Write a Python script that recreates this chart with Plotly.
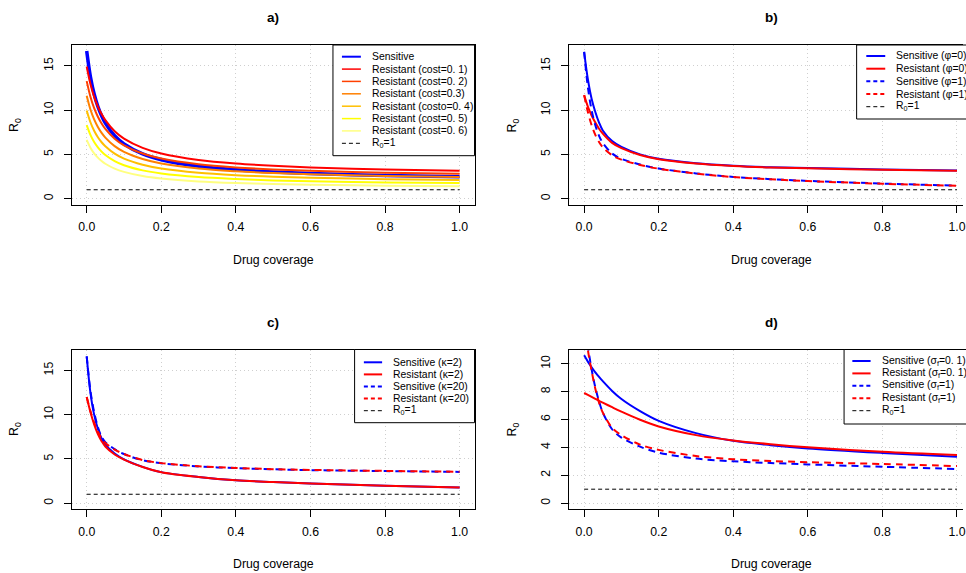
import plotly.graph_objects as go

W, H = 966, 573
FONT = "Liberation Sans, Arial, Helvetica, sans-serif"

# ---------------- data ----------------
x_cov = [0, 0.01, 0.02, 0.03, 0.04, 0.05, 0.075, 0.1, 0.15, 0.2, 0.3, 0.4, 0.5, 0.6, 0.8, 1.0]

# panel a
a_sensitive = [16.7, 13.78, 11.82, 10.41, 9.36, 8.53, 7.10, 6.17, 5.05, 4.40, 3.66, 3.26, 3.01, 2.84, 2.61, 2.48]
a_res_c01 = [14.94, 12.95, 11.50, 10.41, 9.56, 8.87, 7.62, 6.79, 5.74, 5.10, 4.37, 3.97, 3.71, 3.53, 3.29, 3.15]
a_res_c02 = [13.28, 11.51, 10.22, 9.26, 8.50, 7.89, 6.78, 6.03, 5.10, 4.54, 3.89, 3.53, 3.30, 3.14, 2.93, 2.80]
a_res_c03 = [11.62, 10.07, 8.95, 8.10, 7.43, 6.90, 5.93, 5.28, 4.47, 3.97, 3.40, 3.09, 2.88, 2.74, 2.56, 2.45]
a_res_c04 = [9.96, 8.63, 7.67, 6.94, 6.37, 5.92, 5.08, 4.52, 3.83, 3.40, 2.92, 2.65, 2.47, 2.35, 2.20, 2.10]
a_res_c05 = [8.30, 7.20, 6.39, 5.79, 5.31, 4.93, 4.24, 3.77, 3.19, 2.84, 2.43, 2.21, 2.06, 1.96, 1.83, 1.75]
a_res_c06 = [6.64, 5.76, 5.11, 4.63, 4.25, 3.94, 3.39, 3.02, 2.55, 2.27, 1.94, 1.76, 1.65, 1.57, 1.46, 1.40]

# panel b
b_sens_phi0 = [16.6, 13.5, 11.3, 9.8, 8.6, 7.7, 6.5, 5.85, 5.0, 4.5, 4.0, 3.72, 3.55, 3.45, 3.30, 3.19]
b_res_phi0 = [11.7, 10.4, 9.4, 8.6, 7.9, 7.35, 6.3, 5.7, 4.93, 4.45, 3.96, 3.69, 3.52, 3.42, 3.27, 3.16]
b_sens_phi1 = [16.6, 12.6, 10.0, 8.3, 7.1, 6.3, 5.1, 4.5, 3.85, 3.4, 2.85, 2.45, 2.2, 2.0, 1.7, 1.47]
b_res_phi1 = [11.7, 9.8, 8.3, 7.2, 6.4, 5.8, 4.9, 4.4, 3.8, 3.38, 2.83, 2.43, 2.18, 1.98, 1.68, 1.45]

# panel c
c_sens_k2 = [16.6, 12.5, 10.0, 8.4, 7.3, 6.6, 5.6, 4.95, 4.1, 3.5, 2.95, 2.57, 2.38, 2.22, 1.97, 1.77]
c_res_k2 = [12.0, 10.3, 8.9, 7.8, 7.0, 6.4, 5.5, 4.92, 4.08, 3.49, 2.95, 2.57, 2.38, 2.22, 1.97, 1.77]
c_sens_k20 = [16.6, 12.7, 10.3, 8.6, 7.5, 6.9, 6.1, 5.55, 4.85, 4.5, 4.15, 3.95, 3.82, 3.73, 3.62, 3.53]
c_res_k20 = [12.0, 10.4, 9.1, 8.1, 7.3, 6.8, 6.05, 5.55, 4.87, 4.52, 4.17, 3.97, 3.84, 3.75, 3.64, 3.55]

# panel d
d_sens_s01 = [10.6, 10.15, 9.75, 9.38, 9.05, 8.75, 8.05, 7.47, 6.6, 5.9, 5.02, 4.47, 4.16, 3.92, 3.6, 3.33]
d_res_s01 = [7.9, 7.76, 7.62, 7.48, 7.34, 7.21, 6.88, 6.56, 5.98, 5.5, 4.88, 4.5, 4.23, 4.01, 3.68, 3.45]
d_sens_s1 = [14.0, 11.3, 9.6, 8.3, 7.3, 6.5, 5.3, 4.7, 4.05, 3.62, 3.2, 3.0, 2.88, 2.78, 2.61, 2.45]
d_res_s1 = [13.5, 11.0, 9.5, 8.2, 7.2, 6.5, 5.4, 4.88, 4.2, 3.82, 3.38, 3.15, 3.02, 2.94, 2.81, 2.66]

r0_x = [0, 1]
r0_y = [1, 1]

x_ticks = [0, 0.2, 0.4, 0.6, 0.8, 1.0]
x_ticktext = ["0.0", "0.2", "0.4", "0.6", "0.8", "1.0"]
y_ticks_abc = [0, 5, 10, 15]
y_ticks_d = [0, 2, 4, 6, 8, 10]

heat = ["#FF0000", "#FF4000", "#FF8000", "#FFBF00", "#FFFF00", "#FFFF80"]
BLUE = "#0000FF"
RED = "#FF0000"
DASH = "7px,5px"
R0DASH = "4px,3px"
GRID = "#CFCFCF"
GRIDDASH = "1px,3px"

# ---------------- geometry helpers ----------------
def px(v):
    return v / W

def py(v):
    return 1 - v / H

top_dom = [py(204.5), py(45)]
bot_dom = [py(509), py(349.5)]
left_dom = [px(72), px(476)]
right_dom = [px(571), 1.0]

fig = go.Figure()

def add(xa, ya, y, color, width, dash=None):
    fig.add_trace(go.Scatter(
        x=x_cov, y=y, mode="lines", xaxis=xa, yaxis=ya, showlegend=False,
        line=dict(color=color, width=width, dash=dash, shape="spline", smoothing=0.9),
        hoverinfo="skip"))

def add_r0(xa, ya):
    fig.add_trace(go.Scatter(
        x=r0_x, y=r0_y, mode="lines", xaxis=xa, yaxis=ya, showlegend=False,
        line=dict(color="#000000", width=1, dash=R0DASH), hoverinfo="skip"))

# panel a
add("x", "y", a_sensitive, BLUE, 3.5)
for ys, c in zip([a_res_c01, a_res_c02, a_res_c03, a_res_c04, a_res_c05, a_res_c06], heat):
    add("x", "y", ys, c, 2)
add_r0("x", "y")

# panel b
add("x2", "y2", b_sens_phi0, BLUE, 2)
add("x2", "y2", b_res_phi0, RED, 2)
add("x2", "y2", b_sens_phi1, BLUE, 2, DASH)
add("x2", "y2", b_res_phi1, RED, 2, DASH)
add_r0("x2", "y2")

# panel c
add("x3", "y3", c_sens_k2, BLUE, 2)
add("x3", "y3", c_res_k2, RED, 2)
add("x3", "y3", c_sens_k20, BLUE, 2, DASH)
add("x3", "y3", c_res_k20, RED, 2, DASH)
add_r0("x3", "y3")

# panel d
add("x4", "y4", d_sens_s01, BLUE, 2)
add("x4", "y4", d_res_s01, RED, 2)
add("x4", "y4", d_sens_s1, BLUE, 2, DASH)
add("x4", "y4", d_res_s1, RED, 2, DASH)
add_r0("x4", "y4")

tickfont = dict(family=FONT, size=12.3, color="black")

def xaxis(dom, rng, anchor):
    return dict(domain=dom, range=rng, anchor=anchor, tickvals=x_ticks, ticktext=x_ticktext,
                ticks="outside", ticklen=7, tickcolor="black", tickwidth=1,
                showline=True, linecolor="black", linewidth=1, mirror=True,
                showgrid=True, gridcolor=GRID, griddash=GRIDDASH, gridwidth=1,
                zeroline=False, tickfont=tickfont, ticklabelstandoff=4,
                ticklabeloverflow="allow", fixedrange=True)

def yaxis(dom, rng, anchor, ticks, mirror):
    return dict(domain=dom, range=rng, anchor=anchor, tickvals=ticks,
                ticktext=[str(t) for t in ticks],
                ticks="outside", ticklen=7, tickcolor="black", tickwidth=1, tickangle=-90,
                showline=True, linecolor="black", linewidth=1, mirror=mirror,
                showgrid=True, gridcolor=GRID, griddash=GRIDDASH, gridwidth=1,
                zeroline=False, tickfont=tickfont, ticklabelstandoff=6,
                ticklabeloverflow="allow", fixedrange=True)

yr_abc = [-0.668, 17.368]
yr_d = [-0.42, 11.02]
xr_left = [-0.04, 1.04]
xr_right = [-0.04, -0.04 + 395 / 374]

fig.update_layout(
    width=W, height=H, margin=dict(l=0, r=0, t=0, b=0),
    paper_bgcolor="white", plot_bgcolor="white",
    xaxis=xaxis(left_dom, xr_left, "y"),
    yaxis=yaxis(top_dom, yr_abc, "x", y_ticks_abc, True),
    xaxis2=xaxis(right_dom, xr_right, "y2"),
    yaxis2=yaxis(top_dom, yr_abc, "x2", y_ticks_abc, False),
    xaxis3=xaxis(left_dom, xr_left, "y3"),
    yaxis3=yaxis(bot_dom, yr_abc, "x3", y_ticks_abc, True),
    xaxis4=xaxis(right_dom, xr_right, "y4"),
    yaxis4=yaxis(bot_dom, yr_d, "x4", y_ticks_d, False),
    font=dict(family=FONT, color="black"),
)

annotations = []
shapes = []

def text(x, y, s, size=12.3, bold=False, angle=0, xanchor="center"):
    annotations.append(dict(
        x=px(x), y=py(y), xref="paper", yref="paper", text=("<b>%s</b>" % s) if bold else s,
        showarrow=False, xanchor=xanchor, yanchor="middle", textangle=angle,
        font=dict(family=FONT, size=size, color="black")))

# titles and axis labels
for cx, ty, lab in [(274, 17, "a)"), (773.5, 17, "b)"), (274, 322, "c)"), (773.5, 322, "d)")]:
    text(cx, ty, lab, size=13.5, bold=True)
for cx, ty in [(274, 260), (773.5, 260), (274, 564), (773.5, 564)]:
    text(cx, ty, "Drug coverage")
for lx, ly in [(15, 125), (515, 125), (15, 429), (515, 429)]:
    text(lx, ly, "R<sub>0</sub>", angle=-90)

# legends
def legend(box, rows, lx0, lx1, tx, items):
    x0, x1, y0, y1 = box
    shapes.append(dict(type="rect", xref="paper", yref="paper",
                       x0=px(x0), x1=px(x1), y0=py(y1), y1=py(y0),
                       line=dict(color="black", width=1), fillcolor="white", layer="above"))
    for ry, (lab, col, dash, wid) in zip(rows, items):
        shapes.append(dict(type="line", xref="paper", yref="paper",
                           x0=px(lx0), x1=px(lx1), y0=py(ry), y1=py(ry),
                           line=dict(color=col, width=wid, dash=dash), layer="above"))
        text(tx, ry, lab, size=10.4, xanchor="left")

r0_item = ("R<sub>0</sub>=1", "black", R0DASH, 1)
legend((334, 476, 45, 155.7),
       [56.7, 69.1, 81.4, 93.8, 106.2, 118.6, 130.9, 143.3], 343, 362, 371,
       [("Sensitive", BLUE, None, 2),
        ("Resistant (cost=0. 1)", heat[0], None, 1.5),
        ("Resistant (cost=0. 2)", heat[1], None, 1.5),
        ("Resistant (cost=0.3)", heat[2], None, 1.5),
        ("Resistant (costo=0. 4)", heat[3], None, 1.5),
        ("Resistant (cost=0. 5)", heat[4], None, 1.5),
        ("Resistant (cost=0. 6)", heat[5], None, 1.5),
        r0_item])
legend((859.3, 1010, 45, 119), [56, 68.7, 81.3, 94, 106.7], 869, 888, 896.7,
       [("Sensitive (φ=0)", BLUE, None, 2),
        ("Resistant (φ=0)", RED, None, 2),
        ("Sensitive (φ=1)", BLUE, "4px,3px", 2),
        ("Resistant (φ=1)", RED, "4px,3px", 2),
        r0_item])
legend((355.7, 476, 349.5, 422.7), [362.3, 374.4, 386.5, 398.6, 410.7], 365, 383.3, 392.7,
       [("Sensitive (κ=2)", BLUE, None, 2),
        ("Resistant (κ=2)", RED, None, 2),
        ("Sensitive (κ=20)", BLUE, "4px,3px", 2),
        ("Resistant (κ=20)", RED, "4px,3px", 2),
        r0_item])
legend((846.7, 1010, 349.5, 424), [361, 373.4, 385.8, 398.2, 410.7], 855, 873.3, 882.7,
       [("Sensitive (σ<sub>f</sub>=0. 1)", BLUE, None, 2),
        ("Resistant (σ<sub>f</sub>=0. 1)", RED, None, 2),
        ("Sensitive (σ<sub>f</sub>=1)", BLUE, "4px,3px", 2),
        ("Resistant (σ<sub>f</sub>=1)", RED, "4px,3px", 2),
        r0_item])

fig.update_layout(annotations=annotations, shapes=shapes)
fig.write_html(
    "out.html",
    config={"displayModeBar": False},
    post_script=("document.body.style.margin='0';"
                 "document.body.style.overflow='hidden';"
                 "document.documentElement.style.overflow='hidden';"))
